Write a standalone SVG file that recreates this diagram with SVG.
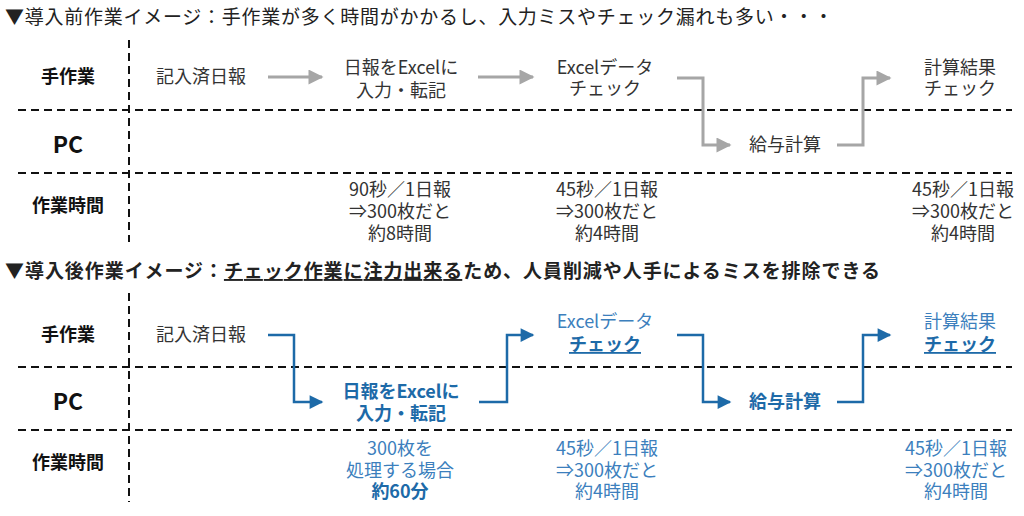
<svg xmlns="http://www.w3.org/2000/svg" width="1024" height="516" viewBox="0 0 1024 516">
<defs>
<style>
text{font-family:"Noto Sans CJK JP","Noto Sans",sans-serif;}
.title{font-size:19px;fill:#222;}
.tb{font-weight:bold;}
.lab{font-size:18px;font-weight:bold;fill:#111;text-anchor:middle;}
.pc{font-size:23px;font-weight:bold;fill:#111;text-anchor:middle;}
.n{font-size:18px;fill:#333;text-anchor:middle;}
.nb{font-size:18px;fill:#1d6aa8;text-anchor:middle;font-weight:bold;}
.nl{font-size:18px;fill:#3c7fbd;text-anchor:middle;}
.u{text-decoration:underline;}
.dash{stroke:#111;stroke-width:2;stroke-dasharray:8 5;fill:none;}
.ga{stroke:#a6a6a6;stroke-width:3;fill:none;}
.ba{stroke:#1d6aa8;stroke-width:2.5;fill:none;}
</style>
<marker id="mg" viewBox="0 0 10 10" refX="9" refY="5" markerWidth="6" markerHeight="5" markerUnits="strokeWidth" orient="auto"><path d="M0,0 L10,5 L0,10 z" fill="#a6a6a6"/></marker>
<marker id="mb" viewBox="0 0 10 10" refX="9" refY="5" markerWidth="6.5" markerHeight="5.5" markerUnits="strokeWidth" orient="auto"><path d="M0,0 L10,5 L0,10 z" fill="#1d6aa8"/></marker>
</defs>
<rect width="1024" height="516" fill="#fff"/>

<g id="grid">
<line class="dash" x1="129" y1="40" x2="129" y2="242"/>
<line class="dash" x1="18" y1="110" x2="1012" y2="110"/>
<line class="dash" x1="18" y1="173" x2="1012" y2="173"/>
<line class="dash" x1="129" y1="293" x2="129" y2="502"/>
<line class="dash" x1="18" y1="367" x2="1012" y2="367"/>
<line class="dash" x1="18" y1="430" x2="1012" y2="430"/>
</g>

<g id="titles">
<text class="title" x="5" y="24" textLength="828" lengthAdjust="spacing">▼導入前作業イメージ：手作業が多く時間がかかるし、入力ミスやチェック漏れも多い・・・</text>
<text class="title tb" x="5" y="278" textLength="875" lengthAdjust="spacing">▼導入後作業イメージ：<tspan class="u">チェック作業に注力出来る</tspan>ため、人員削減や人手によるミスを排除できる</text>
</g>

<g id="row-labels">
<text class="lab" x="68" y="83">手作業</text>
<text class="pc" x="68" y="153">PC</text>
<text class="lab" x="68" y="212">作業時間</text>
<text class="lab" x="68" y="341">手作業</text>
<text class="pc" x="68" y="410">PC</text>
<text class="lab" x="68" y="469">作業時間</text>
</g>

<g id="before-nodes">
<g id="b-kinyu"><text class="n" x="201" y="83">記入済日報</text></g>
<g id="b-nyuryoku"><text class="n" x="401" y="74">日報をExcelに</text><text class="n" x="401" y="97">入力・転記</text></g>
<g id="b-check"><text class="n" x="605" y="74">Excelデータ</text><text class="n" x="605" y="95">チェック</text></g>
<g id="b-kyuyo"><text class="n" x="785" y="151">給与計算</text></g>
<g id="b-kekka"><text class="n" x="960" y="74">計算結果</text><text class="n" x="960" y="95">チェック</text></g>
<g id="b-time1"><text class="n" x="400" y="196">90秒／1日報</text><text class="n" x="400" y="218">⇒300枚だと</text><text class="n" x="400" y="240">約8時間</text></g>
<g id="b-time2"><text class="n" x="607" y="196">45秒／1日報</text><text class="n" x="607" y="218">⇒300枚だと</text><text class="n" x="607" y="240">約4時間</text></g>
<g id="b-time3"><text class="n" x="963" y="196">45秒／1日報</text><text class="n" x="963" y="218">⇒300枚だと</text><text class="n" x="963" y="240">約4時間</text></g>
</g>

<g id="after-nodes">
<g id="a-kinyu"><text class="n" x="201" y="341">記入済日報</text></g>
<g id="a-nyuryoku"><text class="nb" x="401" y="398">日報をExcelに</text><text class="nb" x="401" y="420">入力・転記</text></g>
<g id="a-check"><text class="nl" x="605" y="328">Excelデータ</text><text class="nb u" x="605" y="351">チェック</text></g>
<g id="a-kyuyo"><text class="nb" x="785" y="408">給与計算</text></g>
<g id="a-kekka"><text class="nl" x="960" y="328">計算結果</text><text class="nb u" x="960" y="351">チェック</text></g>
<g id="a-time1"><text class="nl" x="400" y="455">300枚を</text><text class="nl" x="400" y="477">処理する場合</text><text class="nb" x="400" y="498">約60分</text></g>
<g id="a-time2"><text class="nl" x="607" y="455">45秒／1日報</text><text class="nl" x="607" y="477">⇒300枚だと</text><text class="nl" x="607" y="498">約4時間</text></g>
<g id="a-time3"><text class="nl" x="956" y="455">45秒／1日報</text><text class="nl" x="956" y="477">⇒300枚だと</text><text class="nl" x="956" y="498">約4時間</text></g>
</g>

<g id="connectors">
<path class="ga" marker-end="url(#mg)" d="M268,77 H322"/>
<path class="ga" marker-end="url(#mg)" d="M478,77 H533"/>
<path class="ga" marker-end="url(#mg)" d="M677,78 H703 V145 H730"/>
<path class="ga" marker-end="url(#mg)" d="M837,145 H863 V78 H890"/>
<path class="ba" marker-end="url(#mb)" d="M268,335 H294 V402 H322"/>
<path class="ba" marker-end="url(#mb)" d="M479,402 H507 V335 H533"/>
<path class="ba" marker-end="url(#mb)" d="M677,335 H703 V402 H730"/>
<path class="ba" marker-end="url(#mb)" d="M837,402 H863 V335 H890"/>
</g>
</svg>
